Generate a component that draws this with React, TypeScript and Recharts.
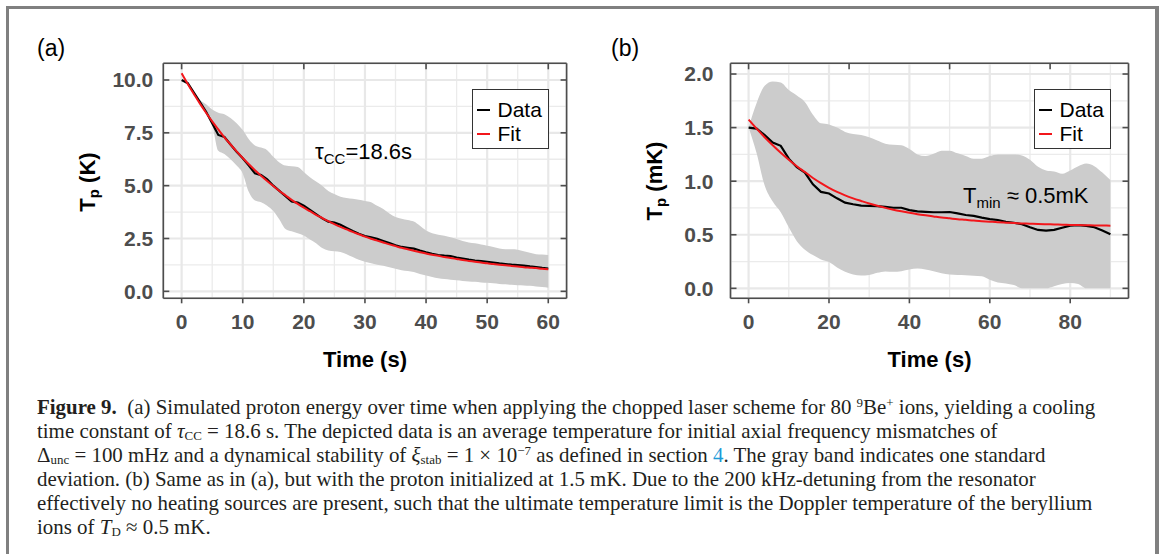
import React, { useLayoutEffect, useRef, useState } from 'react';
import { ComposedChart, Area, Line, XAxis, YAxis, CartesianGrid } from 'recharts';

// ---------- Panel (a) data ----------
const timeA = [0,1,2,3,4,5,6,7,8,9,10,11,12,13,14,15,16,17,18,19,20,21,22,23,24,25,26,27,28,29,30,31,32,33,34,35,36,37,38,39,40,41,42,43,44,45,46,47,48,49,50,51,52,53,54,55,56,57,58,59,60];
const dataA = [10.0,9.85,9.4,8.95,8.5,7.95,7.4,7.3,6.95,6.6,6.3,5.95,5.58,5.5,5.3,5.0,4.75,4.5,4.25,4.2,4.05,3.85,3.65,3.45,3.3,3.25,3.15,3.0,2.85,2.72,2.62,2.55,2.48,2.38,2.28,2.18,2.1,2.06,2.02,1.93,1.85,1.78,1.72,1.69,1.67,1.6,1.55,1.5,1.46,1.43,1.4,1.36,1.32,1.29,1.26,1.24,1.22,1.18,1.15,1.11,1.08];
const fitA = [10.32,9.81,9.34,8.88,8.45,8.04,7.66,7.29,6.95,6.62,6.31,6.01,5.73,5.47,5.22,4.98,4.75,4.54,4.33,4.14,3.96,3.79,3.62,3.47,3.32,3.18,3.05,2.93,2.81,2.7,2.59,2.49,2.4,2.31,2.22,2.14,2.06,1.99,1.92,1.85,1.79,1.73,1.68,1.62,1.58,1.53,1.48,1.44,1.4,1.36,1.33,1.29,1.26,1.23,1.2,1.17,1.14,1.12,1.1,1.07,1.05];
const lowA = [10.0,9.85,9.35,8.9,8.45,7.9,6.65,6.5,6.25,5.95,5.58,4.7,4.3,4.22,4.05,3.8,3.4,2.95,2.84,2.75,2.64,2.45,2.28,2.05,1.93,1.9,1.86,1.76,1.62,1.49,1.4,1.33,1.26,1.21,1.14,1.07,1.0,0.96,0.91,0.82,0.75,0.68,0.62,0.58,0.55,0.52,0.49,0.47,0.45,0.42,0.4,0.38,0.35,0.33,0.31,0.29,0.28,0.26,0.23,0.2,0.17];
const highA = [10.0,9.85,9.45,9.05,8.85,8.6,8.45,8.38,8.2,7.95,7.63,7.2,6.9,6.8,6.68,6.37,6.1,5.95,5.92,5.88,5.65,5.4,5.2,5.0,4.75,4.6,4.47,4.42,4.38,4.33,4.28,4.22,4.05,3.9,3.68,3.52,3.44,3.38,3.3,3.1,2.88,2.75,2.68,2.63,2.56,2.48,2.38,2.31,2.27,2.22,2.16,2.1,2.03,1.99,1.99,1.97,1.9,1.82,1.76,1.74,1.72];
const xMajorA = [0, 10, 20, 30, 40, 50, 60];
const xMinorA = [5, 15, 25, 35, 45, 55];
const xTopA = [0, 20, 40, 60];
const yMajorA = [0, 2.5, 5, 7.5, 10];
const yMinorA = [1.25, 3.75, 6.25, 8.75];

// ---------- Panel (b) data ----------
const timeB = [0,2,4,6,8,10,12,14,16,18,20,22,24,26,28,30,32,34,36,38,40,42,44,46,48,50,52,54,56,58,60,62,64,66,68,70,72,74,76,78,80,82,84,86,88,90];
const dataB = [1.5,1.49,1.43,1.36,1.33,1.21,1.13,1.08,0.97,0.9,0.885,0.84,0.8,0.785,0.772,0.77,0.768,0.76,0.752,0.752,0.73,0.718,0.714,0.71,0.71,0.712,0.7,0.684,0.676,0.66,0.646,0.638,0.62,0.612,0.598,0.57,0.545,0.538,0.545,0.565,0.585,0.59,0.583,0.57,0.54,0.505];
const fitB = [1.575,1.49,1.41,1.335,1.265,1.2,1.14,1.085,1.03,0.982,0.938,0.9,0.868,0.84,0.815,0.791,0.77,0.751,0.734,0.719,0.705,0.692,0.681,0.671,0.661,0.653,0.645,0.639,0.632,0.627,0.622,0.617,0.613,0.609,0.606,0.603,0.6,0.598,0.596,0.594,0.592,0.59,0.589,0.587,0.586,0.585];
const lowB = [1.5,1.26,0.96,0.81,0.71,0.57,0.44,0.36,0.31,0.27,0.245,0.195,0.155,0.13,0.12,0.125,0.145,0.158,0.155,0.16,0.175,0.185,0.175,0.16,0.14,0.128,0.124,0.122,0.118,0.112,0.08,0.055,0.045,0.03,0,0,0,0,0.02,0.04,0.05,0.04,0,0,0,0];
const highB = [1.5,1.73,1.89,1.93,1.92,1.85,1.8,1.74,1.62,1.54,1.53,1.5,1.46,1.44,1.43,1.41,1.38,1.35,1.34,1.335,1.3,1.25,1.235,1.255,1.285,1.285,1.26,1.235,1.21,1.21,1.235,1.25,1.25,1.25,1.24,1.2,1.135,1.1,1.09,1.07,1.1,1.14,1.165,1.14,1.08,1.01];
const xMajorB = [0, 20, 40, 60, 80];
const xMinorB = [10, 30, 50, 70, 90];
const xTopB = [0, 25, 50, 75];
const yMajorB = [0, 0.5, 1, 1.5, 2];
const yMinorB = [0.25, 0.75, 1.25, 1.75];

const legendItems = [
  { name: 'Data', color: '#000000' },
  { name: 'Fit', color: '#F2161B' },
];

// ---------- styles ----------
const SANS = '"Liberation Sans", Arial, Helvetica, sans-serif';
const SERIF = '"Liberation Serif", "Times New Roman", serif';
const RED = '#F2161B';
const AXIS = '#4D4D4D';
const TICK_FONT = { fill: '#4D4D4D', fontSize: 21, fontWeight: 700, fontFamily: SANS };

const Empty = () => <g />;

function Panel(props: any) {
  const { left, width, height, margin, xDomain, yDomain, xMajor, xMinor, xTop, yMajor, yMinor, yGap, rows } = props;
  const line = { stroke: AXIS, strokeWidth: 1.6 };
  return (
    <div style={{ position: 'absolute', left, top: 0 }}>
      <ComposedChart width={width} height={height} data={rows} margin={margin}>
        <XAxis xAxisId="xm" type="number" dataKey="t" domain={xDomain} ticks={xMinor} hide allowDataOverflow />
        <YAxis yAxisId="ym" type="number" domain={yDomain} ticks={yMinor} hide allowDataOverflow />
        <CartesianGrid xAxisId="xm" yAxisId="ym" stroke="#EBEBEB" strokeWidth={1.3} />
        <CartesianGrid xAxisId="b" yAxisId="l" stroke="#E8E8E8" strokeWidth={2.2} />
        <XAxis xAxisId="b" orientation="bottom" type="number" dataKey="t" domain={xDomain} ticks={xMajor}
          interval={0} allowDataOverflow height={30} tickSize={5} tickMargin={11}
          tick={TICK_FONT} axisLine={line} tickLine={line} />
        <XAxis xAxisId="t" orientation="top" type="number" dataKey="t" domain={xDomain} ticks={xTop}
          interval={0} allowDataOverflow mirror tickSize={6} tick={Empty} axisLine={line} tickLine={line} />
        <YAxis yAxisId="l" orientation="left" type="number" domain={yDomain} ticks={yMajor} interval={0}
          allowDataOverflow width={60} tickSize={0} tickMargin={yGap} tickLine={false}
          tickFormatter={(v: number) => v.toFixed(1)} tick={TICK_FONT} axisLine={line} />
        <YAxis yAxisId="li" orientation="left" type="number" domain={yDomain} ticks={yMajor} interval={0}
          allowDataOverflow mirror tickSize={6} tick={Empty} axisLine={false} tickLine={line} />
        <YAxis yAxisId="r" orientation="right" type="number" domain={yDomain} ticks={yMajor} interval={0}
          allowDataOverflow mirror tickSize={6} tick={Empty} axisLine={line} tickLine={line} />
        <Area xAxisId="b" yAxisId="l" type="monotone" dataKey="band" fill="#CCCCCC" fillOpacity={1}
          stroke="none" isAnimationActive={false} activeDot={false} />
        <Line xAxisId="b" yAxisId="l" type="linear" dataKey="data" stroke="#000000" strokeWidth={2.2}
          dot={false} isAnimationActive={false} activeDot={false} />
        <Line xAxisId="b" yAxisId="l" type="monotone" dataKey="fit" stroke={RED} strokeWidth={2}
          dot={false} isAnimationActive={false} activeDot={false} />
      </ComposedChart>
    </div>
  );
}

function LegendBox({ left, top }: { left: number; top: number }) {
  return (
    <div style={{ position: 'absolute', left, top, width: 77, height: 60, boxSizing: 'border-box',
      border: '1.5px solid #333333', background: '#FFFFFF', fontFamily: SANS, fontSize: 21, color: '#000' }}>
      {legendItems.map((it, i) => (
        <div key={it.name} style={{ position: 'absolute', left: 3.5, top: 8 + i * 24, height: 24,
          display: 'flex', alignItems: 'center', whiteSpace: 'nowrap' }}>
          <span style={{ display: 'inline-block', width: 13, height: 2.5, background: it.color, marginRight: 8 }} />
          <span style={{ lineHeight: '24px' }}>{it.name}</span>
        </div>
      ))}
    </div>
  );
}

const titleSub: React.CSSProperties = { fontSize: '0.68em', verticalAlign: '-0.28em', lineHeight: 0 };
const capSub: React.CSSProperties = { fontSize: 13, verticalAlign: '-2.4px', lineHeight: 0 };
const capSup: React.CSSProperties = { fontSize: 13, verticalAlign: '7px', lineHeight: 0 };

function YTitle({ cx, cy, unit }: { cx: number; cy: number; unit: string }) {
  return (
    <div style={{ position: 'absolute', left: cx, top: cy, transform: 'translate(-50%, -50%) rotate(-90deg)',
      fontFamily: SANS, fontWeight: 700, fontSize: 22, whiteSpace: 'nowrap', color: '#000', lineHeight: 1 }}>
      T<span style={titleSub}>p</span> ({unit})
    </div>
  );
}

function XTitle({ cx, cy }: { cx: number; cy: number }) {
  return (
    <div style={{ position: 'absolute', left: cx, top: cy, transform: 'translate(-50%, -50%)',
      fontFamily: SANS, fontWeight: 700, fontSize: 22, whiteSpace: 'nowrap', color: '#000', lineHeight: 1 }}>
      Time (s)
    </div>
  );
}

const CAPTION_LEFT = 37;
const CAPTION_TOP = 395;
const CAPTION_LH = 24;
const CAPTION_LINE1_WIDTH = 1058;

export default function App() {
  const rowsA = timeA.map((t, i) => ({ t, data: dataA[i], fit: fitA[i], band: [lowA[i], highA[i]] }));
  const rowsB = timeB.map((t, i) => ({ t, data: dataB[i], fit: fitB[i], band: [lowB[i], highB[i]] }));
  const line1 = useRef<HTMLDivElement>(null);
  const [scale, setScale] = useState(1);
  useLayoutEffect(() => {
    if (line1.current) {
      const w = line1.current.offsetWidth;
      if (w > 0) setScale(CAPTION_LINE1_WIDTH / w);
    }
  }, []);

  const capLine = (i: number): React.CSSProperties => ({
    position: 'absolute', left: CAPTION_LEFT, top: CAPTION_TOP + i * CAPTION_LH, height: CAPTION_LH,
    lineHeight: `${CAPTION_LH}px`, whiteSpace: 'nowrap', transform: `scaleX(${scale})`, transformOrigin: 'left center',
  });

  return (
    <div style={{ position: 'absolute', left: 0, top: 0, width: 1165, height: 554, overflow: 'hidden', background: '#FFFFFF' }}>
      <div style={{ position: 'absolute', left: 6, top: 6, width: 1153, height: 548, boxSizing: 'border-box',
        borderTop: '3px solid #808080', borderLeft: '3px solid #808080', borderRight: '4px solid #808080' }} />

      <div style={{ position: 'absolute', left: 37, top: 34, fontFamily: SANS, fontSize: 23, lineHeight: '28px', color: '#000' }}>(a)</div>
      <div style={{ position: 'absolute', left: 611, top: 34, fontFamily: SANS, fontSize: 23, lineHeight: '28px', color: '#000' }}>(b)</div>

      <Panel left={0} width={580} height={380}
        margin={{ top: 63.3, right: 13.4, bottom: 51.7, left: 103.3 }}
        xDomain={[-3, 63]} yDomain={[-0.33, 10.79]} xMajor={xMajorA} xMinor={xMinorA} xTop={xTopA}
        yMajor={yMajorA} yMinor={yMinorA} yGap={10} rows={rowsA} />
      <Panel left={580} width={585} height={380}
        margin={{ top: 63.3, right: 36.5, bottom: 51.7, left: 90.5 }}
        xDomain={[-4.5, 94.5]} yDomain={[-0.093, 2.1]} xMajor={xMajorB} xMinor={xMinorB} xTop={xTopB}
        yMajor={yMajorB} yMinor={yMinorB} yGap={17} rows={rowsB} />

      <LegendBox left={472} top={89} />
      <LegendBox left={1034} top={89} />

      <div style={{ position: 'absolute', left: 315, top: 141.4, fontFamily: SANS, fontSize: 22, lineHeight: 1, whiteSpace: 'nowrap', color: '#000' }}>
        τ<span style={{ fontSize: 15, verticalAlign: -5 }}>CC</span>=18.6s
      </div>
      <div style={{ position: 'absolute', left: 963, top: 184.7, fontFamily: SANS, fontSize: 22, lineHeight: 1, whiteSpace: 'nowrap', color: '#000' }}>
        T<span style={{ fontSize: 15, verticalAlign: -5 }}>min</span> ≈ 0.5mK
      </div>

      <YTitle cx={88} cy={182} unit="K" />
      <YTitle cx={655} cy={181} unit="mK" />
      <XTitle cx={365} cy={360} />
      <XTitle cx={929.5} cy={360} />

      <div style={{ fontFamily: SERIF, fontSize: 21, color: '#231F20' }}>
        <div ref={line1} style={{ ...capLine(0), display: 'inline-block' }}>
          <b>Figure 9.</b>{'\u2002'}(a) Simulated proton energy over time when applying the chopped laser scheme for 80 <span style={capSup}>9</span>Be<span style={capSup}>+</span> ions, yielding a cooling
        </div>
        <div style={capLine(1)}>
          time constant of <i>τ</i><span style={capSub}>CC</span> = 18.6 s. The depicted data is an average temperature for initial axial frequency mismatches of
        </div>
        <div style={capLine(2)}>
          Δ<span style={capSub}>unc</span> = 100 mHz and a dynamical stability of <i>ξ</i><span style={capSub}>stab</span> = 1 × 10<span style={capSup}>−7</span> as defined in section <span style={{ color: '#1E9BD7' }}>4</span>. The gray band indicates one standard
        </div>
        <div style={capLine(3)}>
          deviation. (b) Same as in (a), but with the proton initialized at 1.5 mK. Due to the 200 kHz-detuning from the resonator
        </div>
        <div style={capLine(4)}>
          effectively no heating sources are present, such that the ultimate temperature limit is the Doppler temperature of the beryllium
        </div>
        <div style={capLine(5)}>
          ions of <i>T</i><span style={capSub}>D</span> ≈ 0.5 mK.
        </div>
      </div>
    </div>
  );
}
